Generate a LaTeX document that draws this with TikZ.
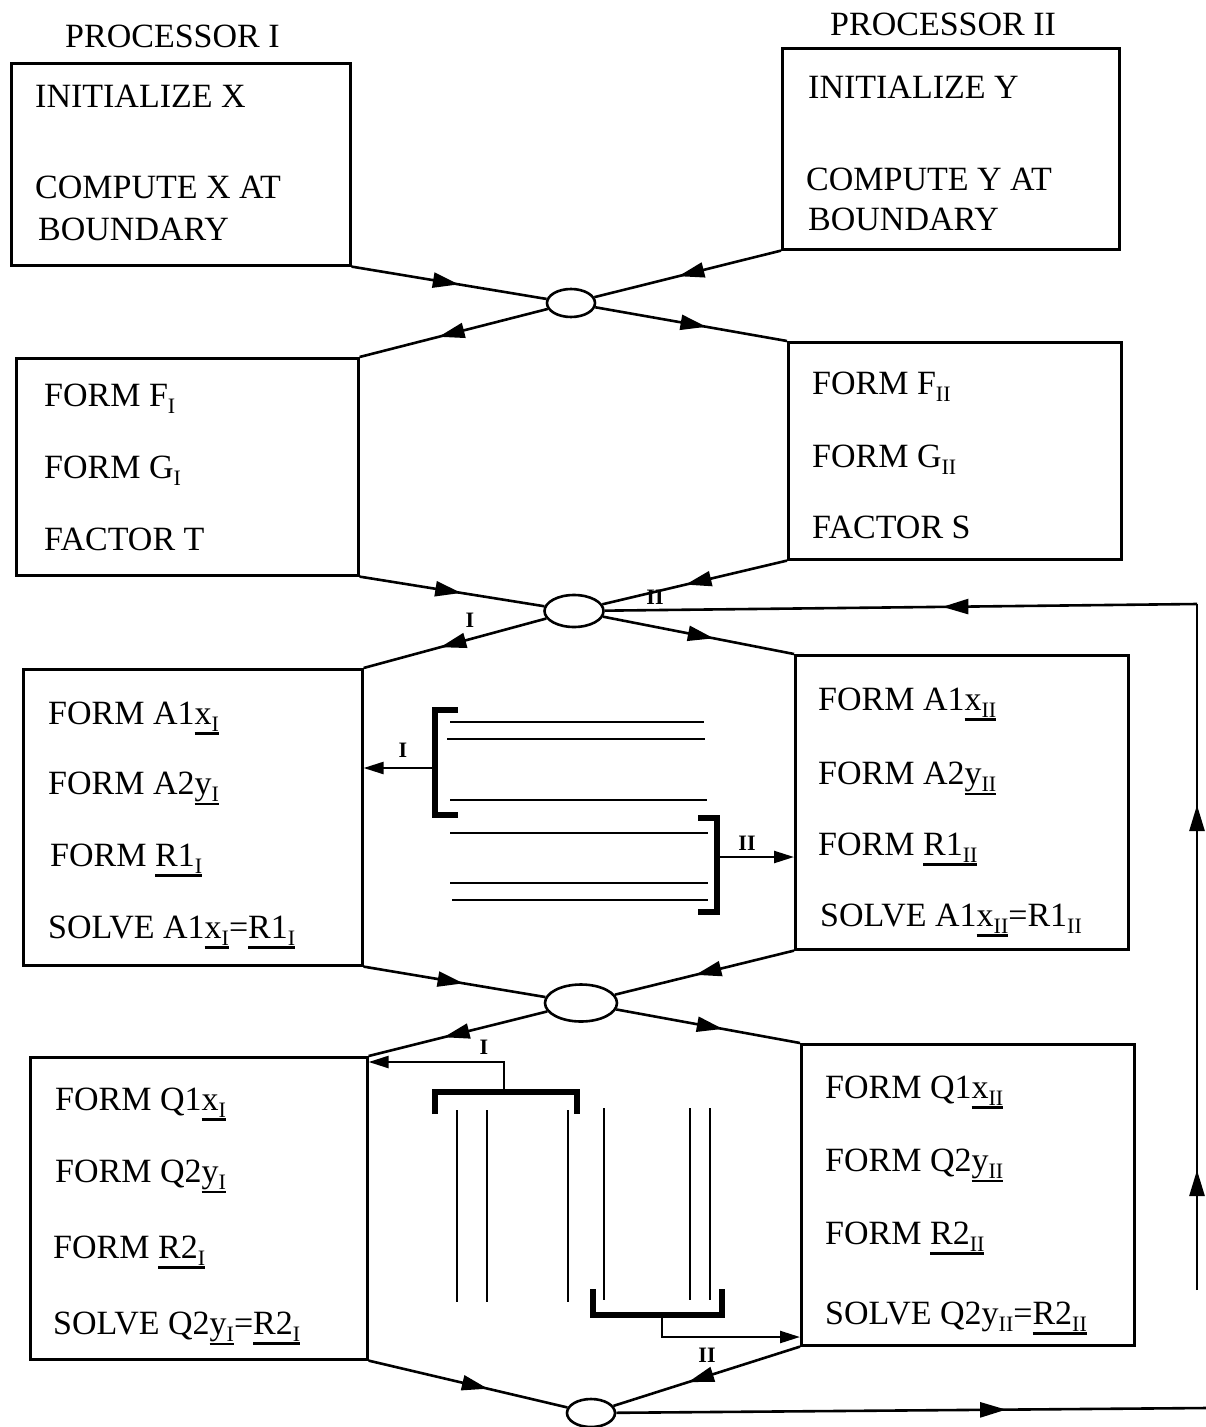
\documentclass[tikz,border=0pt]{standalone}
\usepackage{fontspec}
\setmainfont{Liberation Serif}
\usetikzlibrary{shapes.geometric,arrows.meta,decorations.markings}
\newcommand\sbs[1]{\raisebox{-7pt}{\fontsize{22}{23}\selectfont #1}}
\newcommand\myul[1]{\setbox0=\hbox{#1}\rlap{\rule[\dimexpr-\dp0-4pt\relax]{\wd0}{2.6pt}}\box0}
\tikzset{
 box/.style={draw,line width=2.6pt,inner sep=0pt,anchor=north west},
 junc/.style={draw,ellipse,line width=2.6pt,inner sep=0pt},
 txt/.style={anchor=base west,inner sep=0pt,font=\fontsize{34}{38}\selectfont},
 lbl/.style={inner sep=0pt,font=\fontsize{22}{24}\selectfont\bfseries},
 conn/.style={line width=2.6pt},
 midarrow/.style={conn,postaction={decorate},decoration={markings,mark=at position #1 with {\arrow{Triangle[length=26pt,width=15pt]}}}},
 midarrow/.default=0.55,
 heavy/.style={line width=6pt},
 rulel/.style={line width=2.8pt},
 endarrow/.style={line width=2.4pt,-{Triangle[length=20pt,width=12pt]}},
}
\begin{document}
\begin{tikzpicture}[x=1pt,y=-1pt]
\useasboundingbox (0,0) rectangle (1205,1427);
% titles
\node[txt] (p1) at (65,47) {PROCESSOR I};
\node[txt] (p2) at (830,35) {PROCESSOR II};
% boxes
\node[box,minimum width=339pt,minimum height=202pt] (b1) at (10,62) {};
\node[box,minimum width=337pt,minimum height=201pt] (b2) at (781,47) {};
\node[box,minimum width=342pt,minimum height=217pt] (b3) at (15,357) {};
\node[box,minimum width=333pt,minimum height=217pt] (b4) at (787,341) {};
\node[box,minimum width=339pt,minimum height=296pt] (b5) at (22,668) {};
\node[box,minimum width=333pt,minimum height=294pt] (b6) at (794,654) {};
\node[box,minimum width=337pt,minimum height=302pt] (b7) at (29,1056) {};
\node[box,minimum width=333pt,minimum height=301pt] (b8) at (800,1043) {};
% junctions
\node[junc,minimum width=48pt,minimum height=28pt] (e1) at (571,303) {};
\node[junc,minimum width=59pt,minimum height=32pt] (e2) at (574,611) {};
\node[junc,minimum width=72pt,minimum height=37pt] (e3) at (581,1003) {};
\node[junc,minimum width=48pt,minimum height=28pt] (e4) at (591,1413) {};
% box texts
\node[txt] (t1a) at (35,107) {INITIALIZE X};
\node[txt] (t1b) at (35,198) {COMPUTE X AT};
\node[txt] (t1c) at (38,240) {BOUNDARY};
\node[txt] (t2a) at (808,98) {INITIALIZE Y};
\node[txt] (t2b) at (806,190) {COMPUTE Y AT};
\node[txt] (t2c) at (808,230) {BOUNDARY};
\node[txt] (t3a) at (44,406) {FORM F\sbs{I}};
\node[txt] (t3b) at (44,478) {FORM G\sbs{I}};
\node[txt] (t3c) at (44,550) {FACTOR T};
\node[txt] (t4a) at (812,394) {FORM F\sbs{II}};
\node[txt] (t4b) at (812,467) {FORM G\sbs{II}};
\node[txt] (t4c) at (812,538) {FACTOR S};
\node[txt] (t5a) at (48,724) {FORM A1\myul{x\sbs{I}}};
\node[txt] (t5b) at (48,794) {FORM A2\myul{y\sbs{I}}};
\node[txt] (t5c) at (50,866) {FORM \myul{R1\sbs{I}}};
\node[txt] (t5d) at (48,938) {SOLVE A1\myul{x\sbs{I}}=\myul{R1\sbs{I}}};
\node[txt] (t6a) at (818,710) {FORM A1\myul{x\sbs{II}}};
\node[txt] (t6b) at (818,784) {FORM A2\myul{y\sbs{II}}};
\node[txt] (t6c) at (818,855) {FORM \myul{R1\sbs{II}}};
\node[txt] (t6d) at (820,926) {SOLVE A1\myul{x\sbs{II}}=R1\sbs{II}};
\node[txt] (t7a) at (55,1110) {FORM Q1\myul{x\sbs{I}}};
\node[txt] (t7b) at (55,1182) {FORM Q2\myul{y\sbs{I}}};
\node[txt] (t7c) at (53,1258) {FORM \myul{R2\sbs{I}}};
\node[txt] (t7d) at (53,1334) {SOLVE Q2\myul{y\sbs{I}}=\myul{R2\sbs{I}}};
\node[txt] (t8a) at (825,1098) {FORM Q1\myul{x\sbs{II}}};
\node[txt] (t8b) at (825,1171) {FORM Q2\myul{y\sbs{II}}};
\node[txt] (t8c) at (825,1244) {FORM \myul{R2\sbs{II}}};
\node[txt] (t8d) at (825,1324) {SOLVE Q2y\sbs{II}=\myul{R2\sbs{II}}};
% main connectors
\draw[midarrow] (b1.south east) -- (e1);
\draw[midarrow] (b2.south west) -- (e1);
\draw[midarrow=0.58] (e1) -- (b3.north east);
\draw[midarrow=0.58] (e1) -- (b4.north west);
\draw[midarrow] (b3.south east) -- (e2);
\draw[midarrow] (b4.south west) -- (e2);
\draw[midarrow=0.58] (e2) -- (b5.north east);
\draw[midarrow=0.58] (e2) -- (b6.north west);
\draw[midarrow] (b5.south east) -- (e3);
\draw[midarrow] (b6.south west) -- (e3);
\draw[midarrow=0.58] (e3) -- (b7.north east);
\draw[midarrow=0.58] (e3) -- (b8.north west);
\draw[midarrow=0.6] (b7.south east) -- (e4);
\draw[midarrow=0.6] (b8.south west) -- (e4);
\node[lbl] (l2a) at (470,620) {I};
\node[lbl] (l2b) at (655,597) {II};
% feedback loop
\coordinate (fbA) at (1197,1290);
\coordinate (fbB) at (1197,604);
\coordinate (outR) at (1207,1408);
\draw[conn,postaction={decorate},decoration={markings,
  mark=at position 120pt with {\arrow{Triangle[length=26pt,width=15pt]}},
  mark=at position 485pt with {\arrow{Triangle[length=26pt,width=15pt]}}}] (fbA) -- (fbB);
\draw[midarrow=0.43] (fbB) -- (e2);
\draw[midarrow=0.66] (e4) -- (outR);
% row 3 inner exchange
\draw[heavy] (458,710) -- (435,710) -- (435,815) -- (458,815);
\draw[rulel] (450,722) -- (704,722);
\draw[rulel] (447,739) -- (705,739);
\draw[rulel] (450,800) -- (707,800);
\draw[rulel] (450,833) -- (708,833);
\draw[rulel] (450,883) -- (708,883);
\draw[rulel] (452,900) -- (708,900);
\draw[heavy] (698,818) -- (717,818) -- (717,912) -- (698,912);
\coordinate (brI) at (435,768);
\coordinate (brII) at (717,857);
\draw[endarrow] (brI) -- (brI -| b5.east);
\draw[endarrow] (brII) -- (brII -| b6.west);
\node[lbl] (l3a) at (403,750) {I};
\node[lbl] (l3b) at (747,843) {II};
% row 4 inner exchange
\draw[heavy] (435,1114) -- (435,1092) -- (577,1092) -- (577,1114);
\foreach \xx in {457,487,568} {\draw[rulel] (\xx,1110) -- (\xx,1302);}
\foreach \xx in {604,690,710} {\draw[rulel] (\xx,1108) -- (\xx,1300);}
\draw[heavy] (593,1289) -- (593,1315) -- (722,1315) -- (722,1289);
\coordinate (stI) at (504,1092);
\coordinate (kI) at (504,1062);
\coordinate (stII) at (662,1315);
\coordinate (kII) at (662,1337);
\draw[endarrow] (stI) -- (kI) -- (kI -| b7.east);
\draw[endarrow] (stII) -- (kII) -- (kII -| b8.west);
\node[lbl] (l4a) at (484,1047) {I};
\node[lbl] (l4b) at (707,1355) {II};
\end{tikzpicture}
\end{document}
